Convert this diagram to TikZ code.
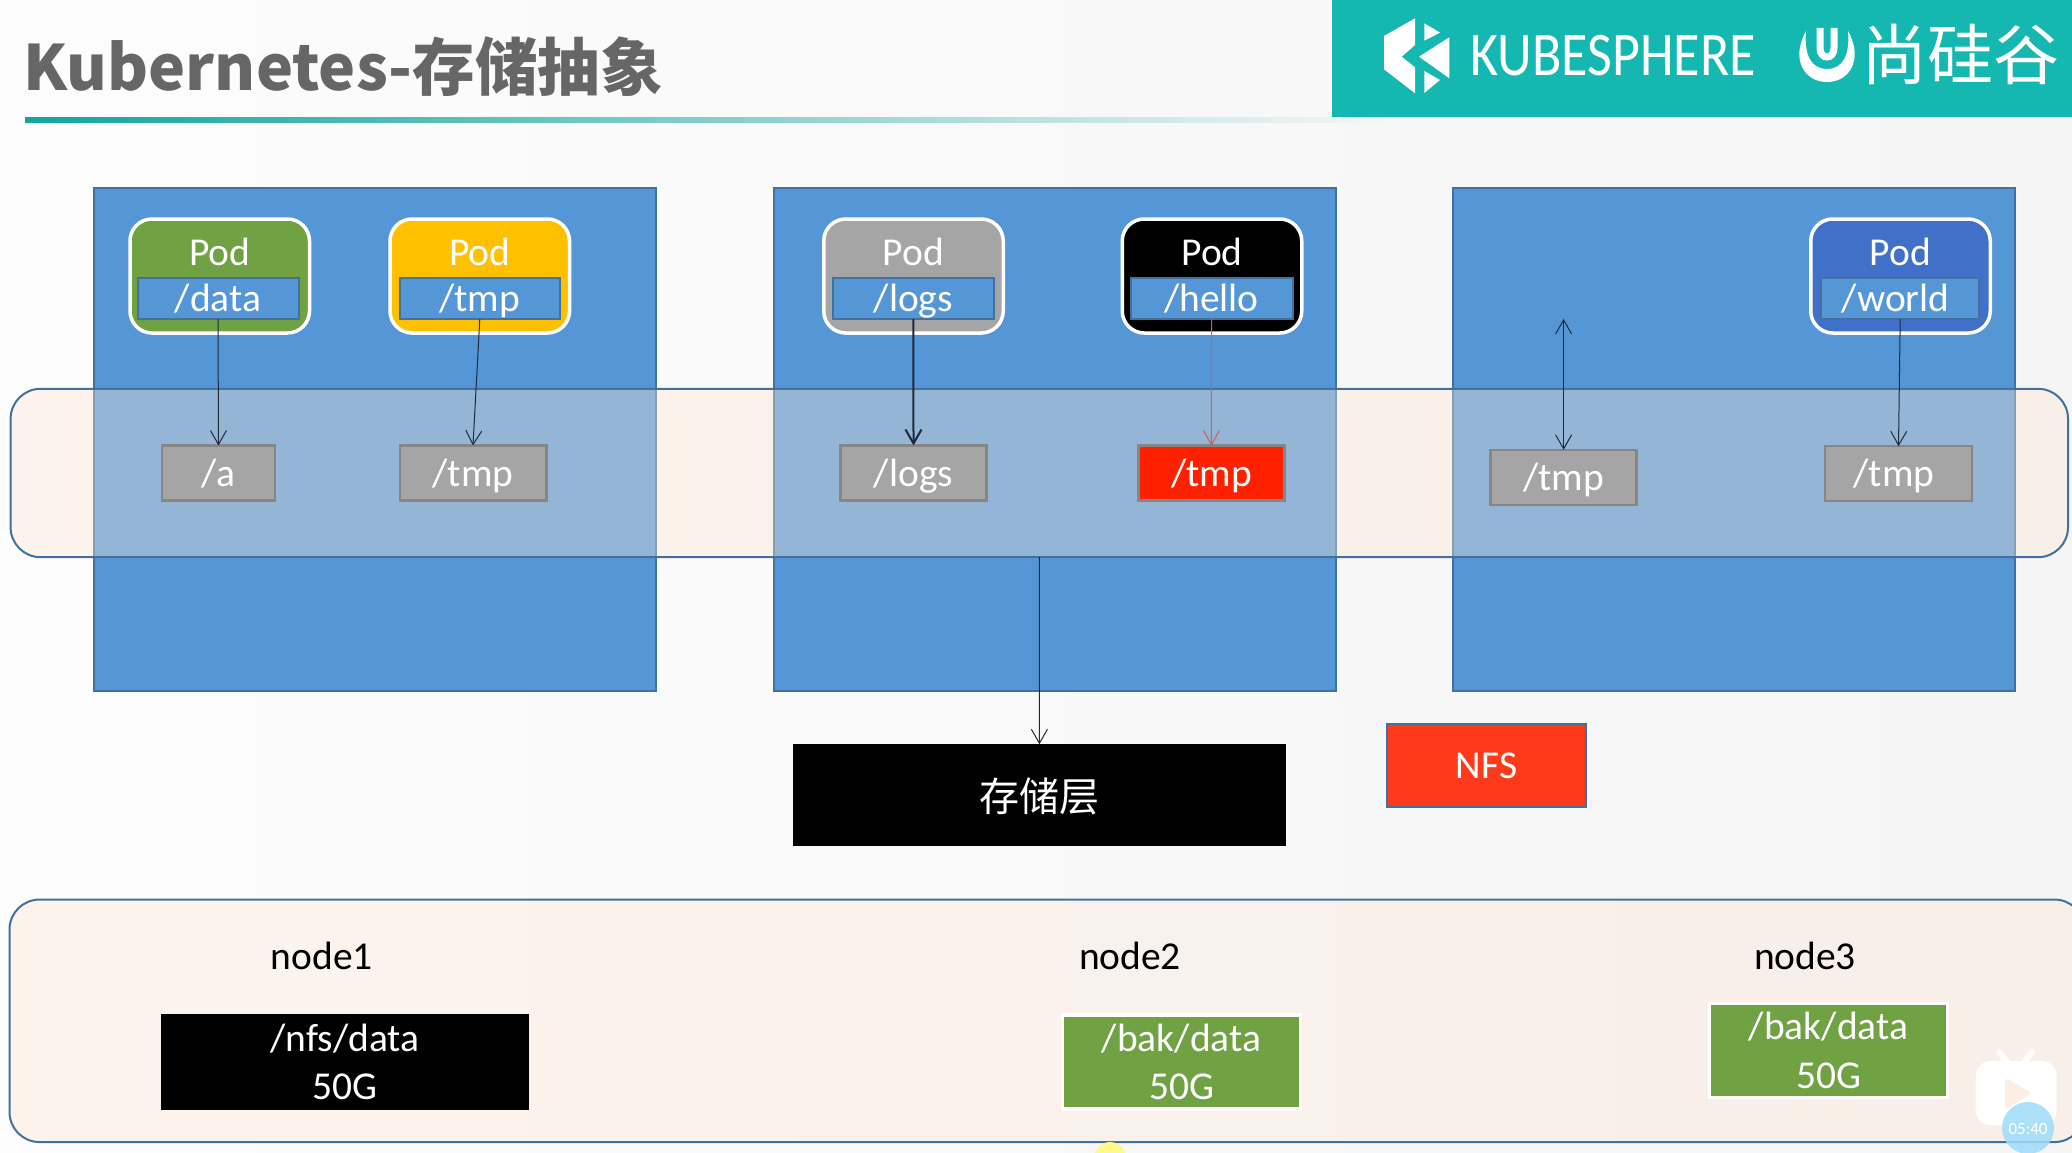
\documentclass[tikz,border=0pt]{standalone}
\usepackage{fontspec}
\setmainfont{Carlito}
\newfontfamily\cjk{Noto Sans CJK SC}
\usetikzlibrary{arrows.meta}
\definecolor{hostblue}{HTML}{5597D6}
\definecolor{edgeblue}{HTML}{41719C}
\definecolor{bandfill}{HTML}{FDE6D6}
\definecolor{teal}{HTML}{14B8B0}
\definecolor{podgreen}{HTML}{70A244}
\definecolor{podamber}{HTML}{FFC000}
\definecolor{podgray}{HTML}{A5A5A5}
\definecolor{podblue}{HTML}{4170C8}
\definecolor{volred}{HTML}{FF2000}
\definecolor{voledge}{HTML}{868686}
\definecolor{nfsred}{HTML}{FF3A1A}
\definecolor{linkdark}{HTML}{1F2A38}
\definecolor{linkred}{HTML}{E05555}
\definecolor{titlegray}{HTML}{666666}
\definecolor{clockblue}{HTML}{9FDCFA}
\tikzset{
    txt/.style={font=\fontsize{39.5}{47}\selectfont, text height=30pt, text depth=4pt, inner sep=0pt, outer sep=0pt, align=center},
    hostbox/.style={draw=edgeblue, line width=2pt, fill=hostblue, minimum height=503.8pt, outer sep=0pt},
    bandbox/.style={draw=edgeblue, line width=2pt, fill=bandfill, fill opacity=0.38, draw opacity=1, rounded corners=30pt, outer sep=0pt},
    podbox/.style={draw=white, line width=3.5pt, rounded corners=22pt, minimum width=179.5pt, minimum height=114pt, outer sep=0pt},
    pathbox/.style={txt, text=white, draw=edgeblue, line width=2pt, fill=hostblue, minimum height=41pt},
    volbox/.style={txt, text=white, draw=voledge, line width=2.5pt, minimum height=55pt},
    diskbox/.style={font=\fontsize{39.5}{48.5}\selectfont, text=white, align=center, inner sep=0pt, outer sep=0pt, minimum height=96pt},
    greendisk/.style={diskbox, fill=podgreen, draw=white, line width=3.5pt, minimum width=238pt, minimum height=94pt},
    link/.style={-{Straight Barb[length=14pt,width=16pt]}, linkdark, line width=1pt}
}
\begin{document}
\begin{tikzpicture}[x=1pt, y=-1pt]
        \useasboundingbox (0,0) rectangle (2072,1153);
        \clip (0,0) rectangle (2072,1153);
        \shade[left color=white!98!gray, right color=white!92!gray] (0,0) rectangle (2072,1153);
        \shade[left color=teal!90!black, middle color=teal!90, right color=white!94!gray] (25,117.5) rectangle (1400,123);
        \node[anchor=base west, inner sep=0pt, text=titlegray, font=\cjk\bfseries\fontsize{62.5}{70}\selectfont] (title) at (23,90.5) {Kubernetes-存储抽象};
        \node[fill=teal, anchor=north west, minimum width=740pt, minimum height=117pt, outer sep=0pt] (header) at (1332,0) {};
        \fill[white] (1415,18.3) -- (1384,36) -- (1384,69.3) -- (1415,93.3) -- (1415,67.3) -- (1401.7,56.7) -- (1415,45) -- cycle;
        \fill[white] (1449.3,37.3) -- (1419,56.7) -- (1449.3,78.3) -- cycle;
        \fill[white] (1424.3,23.3) -- (1440,32.7) -- (1424.3,40.7) -- cycle;
        \fill[white] (1424.3,71) -- (1440,80) -- (1424.3,93) -- cycle;
        \node[text=white, font=\fontsize{62}{70}\selectfont, xscale=0.87, transform shape, inner sep=0pt] (kube) at (1613,56) {KUBESPHERE};
        \fill[white] (1806,31) .. controls (1790,60) and (1805,82) .. (1827,82) .. controls (1849,82) and (1864,60) .. (1848,31) .. controls (1850,55) and (1843,69) .. (1827,69) .. controls (1811,69) and (1804,55) .. (1806,31) -- cycle;
        \draw[white, line width=7pt] (1820,28) -- (1820,48) .. controls (1820,60) and (1834,60) .. (1834,48) -- (1834,28);
        \node[text=white, font=\cjk\fontsize{66}{70}\selectfont, inner sep=0pt] (brand) at (1960,54) {尚硅谷};

        \foreach \nm/\xh in {hostA/375, hostB/1054.5, hostC/1734}{
            \node[hostbox, minimum width=562pt] (\nm) at (\xh,439.4) {};
        }
        \node[bandbox, minimum width=2057.4pt, minimum height=168.4pt] (band) at (1039.3,473) {};
        \node[bandbox, minimum width=2075pt, minimum height=242.5pt] (nodeband) at (1047,1020.8) {};

        \foreach \nm/\xp/\xq/\wq/\col/\txtv in {
            A/219.75/218/161/podgreen/data,
            B/479.75/479.8/159.6/podamber/tmp,
            C/913.5/913.4/160.7/podgray/logs,
            D/1212/1211.5/162/black/hello,
            E/1900.5/1900.2/158.5/podblue/world
        }{
            \node[podbox, fill=\col] (pod\nm) at (\xp,276) {};
            \node[txt, text=white] (label\nm) at (\xp,252.5) {Pod};
            \node[pathbox, minimum width=\wq pt] (path\nm) at (\xq,298.5) {/\txtv};
        }

        \foreach \nm/\xv/\yv/\wv/\col/\txtv in {
            A/218.5/473/113/podgray/a,
            B/473/473/146.5/podgray/tmp,
            C/913.5/473/146/podgray/logs,
            D/1211.4/473/146/volred/tmp,
            F/1563.6/477.3/146/podgray/tmp,
            E/1898.5/473.7/147/podgray/tmp
        }{
            \node[volbox, fill=\col, minimum width=\wv pt] (vol\nm) at (\xv,\yv) {/\txtv};
        }

        \draw[link] (pathA.south) -- (volA.north);
        \draw[link] (pathB.south) -- (volB.north);
        \draw[link, line width=2pt] (pathC.south) -- (volC.north);
        \draw[link, linkred] (pathD.south) -- (volD.north);
        \draw[link] (pathE.south) -- (volE.north);
        \coordinate (free) at (1563.6,319);
        \draw[link, {Straight Barb[length=14pt,width=16pt]}-{Straight Barb[length=14pt,width=16pt]}] (free) -- (volF.north);

        \node[txt, text=white, fill=black, font=\cjk\fontsize{40}{48}\selectfont, text height=34pt, text depth=0pt, minimum width=492.8pt, minimum height=101.2pt] (store) at (1039.4,794.9) {存储层};
        \draw[link] (band.south) -- (store.north);
        \node[txt, text=white, fill=nfsred, draw=edgeblue, line width=2pt, minimum width=199.6pt, minimum height=83pt] (nfs) at (1486.6,765.5) {NFS};

        \foreach \nm/\xl in {node1/321.8, node2/1130, node3/1805}{
            \node[txt, text=black] (\nm) at (\xl,956) {\nm};
        }
        \node[diskbox, fill=black, minimum width=368pt] (diskA) at (345,1062) {/nfs/data\\50G};
        \node[greendisk] (diskB) at (1181.5,1062) {/bak/data\\50G};
        \node[greendisk] (diskC) at (1828.5,1050.5) {/bak/data\\50G};

        \fill[yellow!45!white] (1110,1158) circle (16);
        \draw[white, line width=6pt, line cap=round] (1999,1052) -- (2007,1062);
        \draw[white, line width=6pt, line cap=round] (2032,1052) -- (2024,1062);
        \node[fill=white, rounded corners=15pt, minimum width=81pt, minimum height=64pt, inner sep=0pt] (tvbox) at (2016.2,1093) {};
        \fill[bandfill!70!white, rounded corners=3pt] (2005,1078) -- (2032,1093) -- (2005,1110) -- cycle;
        \fill[clockblue, fill opacity=0.85] (2028,1128) circle (26);
        \node[text=white, font=\fontsize{17}{18}\selectfont, inner sep=0pt] (clock) at (2028,1129) {05:40};
    \end{tikzpicture}
\end{document}
